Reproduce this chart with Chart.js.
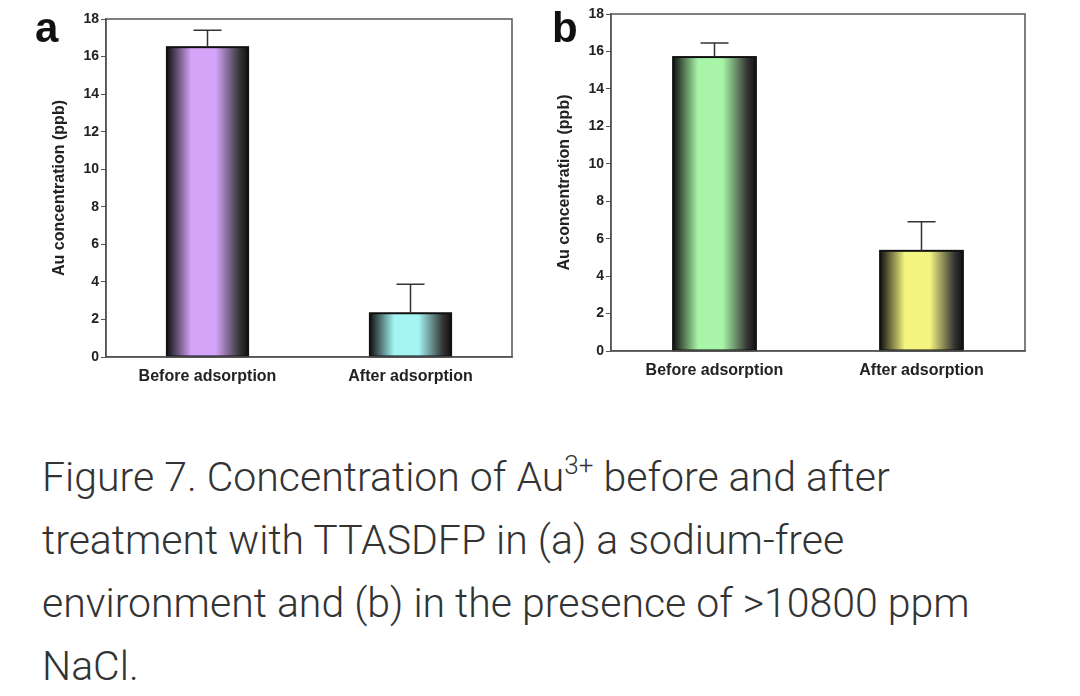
<!DOCTYPE html>
<html>
<head>
<meta charset="utf-8">
<script src="https://cdn.jsdelivr.net/npm/chart.js@4"></script>
<style>
  body { margin: 0; width: 1080px; height: 696px; background: #fff; position: relative; overflow: hidden; }
  .panel { position: absolute; }
  .tag { position: absolute; font: bold 42px "Liberation Sans", Arial, sans-serif; color: #111; }
  #caption { position: absolute; left: 42px; top: 446px; width: 950px; font: 300 41px Roboto, sans-serif; line-height: 63px; color: #333; }
  #caption sup { font-size: 26px; vertical-align: 17px; line-height: 0; }
</style>
</head>
<body>
<div class="panel" style="left:0;top:0;width:540px;height:395px"><canvas id="chartA"></canvas></div>
<div class="panel" style="left:540px;top:0;width:540px;height:390px"><canvas id="chartB"></canvas></div>
<div class="tag" style="left:35px;top:4px">a</div>
<div class="tag" style="left:552px;top:4px">b</div>
<div id="caption">Figure 7. Concentration of Au<sup>3+</sup> before and after treatment with TTASDFP in (a) a sodium-free environment and (b) in the presence of &gt;10800 ppm NaCl.</div>
<script>
// Dados
const categories = ['Before adsorption', 'After adsorption'];
const valuesA = [16.5, 2.33];
const errorsA = [0.9, 1.55];
const valuesB = [15.7, 5.35];
const errorsB = [0.75, 1.55];
const colorsA = ['#d4a4f8', '#a4f4f4'];
const colorsB = ['#a8f4a8', '#f4f480'];

const fontBold = { family: '"Liberation Sans", Arial, sans-serif', weight: 'bold', size: 16 };

// Preenche as barras com gradiente, desenha borda e barras de erro
const barStylePlugin = {
    id: 'barStyle',
    afterDatasetsDraw(chart, args, opts) {
        const ctx = chart.ctx;
        const meta = chart.getDatasetMeta(0);
        const yScale = chart.scales.y;
        meta.data.forEach((bar, i) => {
            const w = bar.width, left = bar.x - w / 2, top = bar.y, base = bar.base;
            const g = ctx.createLinearGradient(left, 0, left + w, 0);
            g.addColorStop(0, '#111');
            g.addColorStop(0.3, opts.colors[i]);
            g.addColorStop(0.6, opts.colors[i]);
            g.addColorStop(0.9, '#333');
            g.addColorStop(1, '#111');
            ctx.save();
            ctx.fillStyle = g;
            ctx.fillRect(left, top, w, base - top);
            ctx.strokeStyle = '#111';
            ctx.lineWidth = 2;
            ctx.strokeRect(left, top, w, base - top);
            const yErr = yScale.getPixelForValue(opts.values[i] + opts.errors[i]);
            ctx.strokeStyle = '#333';
            ctx.lineWidth = 1.5;
            ctx.beginPath();
            ctx.moveTo(bar.x, top);
            ctx.lineTo(bar.x, yErr);
            ctx.moveTo(bar.x - 14, yErr);
            ctx.lineTo(bar.x + 14, yErr);
            ctx.stroke();
            ctx.restore();
        });
        const a = chart.chartArea;
        ctx.save();
        ctx.strokeStyle = '#555';
        ctx.lineWidth = 1.5;
        ctx.strokeRect(a.left, a.top, a.right - a.left, a.bottom - a.top);
        ctx.restore();
    }
};

function initializeChart(canvasId, values, errors, colors, padding, xHeight) {
    const ctx = document.getElementById(canvasId).getContext('2d');
    return new Chart(ctx, {
        type: 'bar',
        data: {
            labels: categories,
            datasets: [{ data: values, backgroundColor: colors, barPercentage: 0.4, categoryPercentage: 1 }]
        },
        plugins: [barStylePlugin],
        options: {
            responsive: true,
            maintainAspectRatio: false,
            animation: false,
            layout: { padding: padding },
            scales: {
                x: {
                    grid: { display: false },
                    border: { color: '#555', width: 1.5 },
                    ticks: { color: '#222', font: fontBold, padding: 2 },
                    afterFit: axis => { axis.height = xHeight; }
                },
                y: {
                    min: 0, max: 18,
                    grid: { drawOnChartArea: false, tickLength: 5, color: '#555' },
                    border: { color: '#555', width: 1.5 },
                    ticks: {
                        stepSize: 1, color: '#222', padding: 2,
                        font: { family: '"Liberation Sans", Arial, sans-serif', weight: 'bold', size: 14 },
                        callback: v => (v % 2 === 0 ? v : '')
                    },
                    title: { display: true, text: 'Au concentration (ppb)', color: '#222', font: fontBold, padding: 2 },
                    afterFit: axis => { axis.width = 58; }
                }
            },
            plugins: {
                legend: { display: false },
                tooltip: { enabled: false },
                barStyle: { values: values, errors: errors, colors: colors }
            }
        }
    });
}

initializeChart('chartA', valuesA, errorsA, colorsA, { left: 48, right: 28, top: 19, bottom: 0 }, 38);
initializeChart('chartB', valuesB, errorsB, colorsB, { left: 13, right: 55, top: 14, bottom: 0 }, 39);
</script>
</body>
</html>
